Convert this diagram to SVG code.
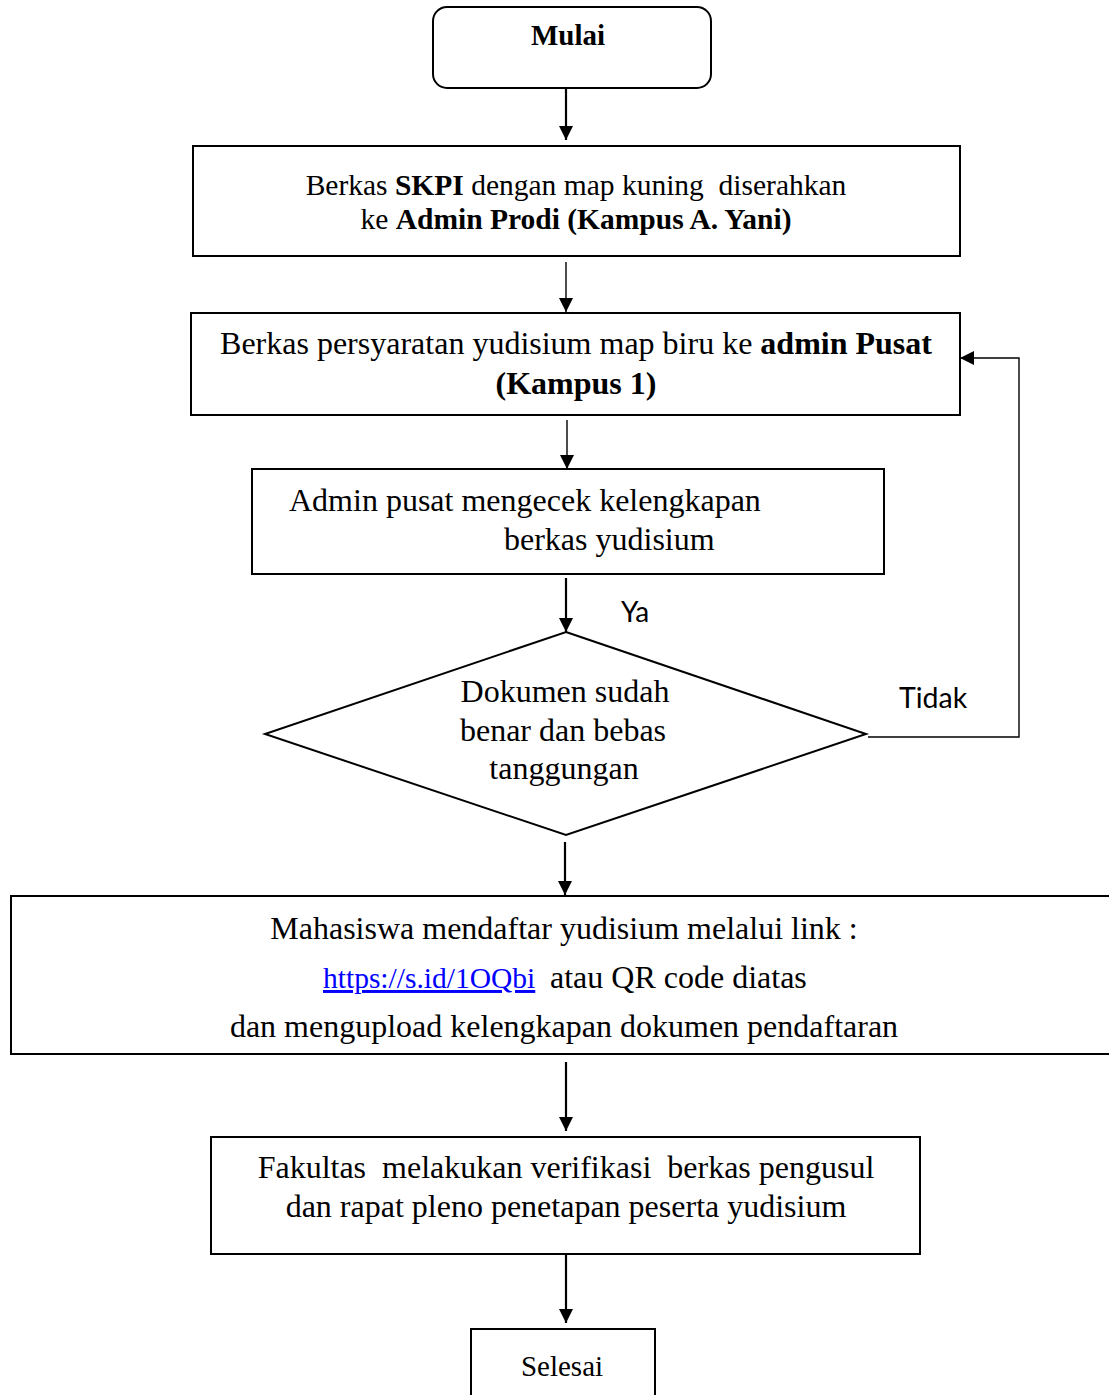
<svg xmlns="http://www.w3.org/2000/svg" width="1109" height="1395" viewBox="0 0 1109 1395">
<defs>
<marker id="arr" markerUnits="userSpaceOnUse" markerWidth="16" markerHeight="16" refX="14" refY="7" orient="auto">
<path d="M0,0 L14,7 L0,14 z" fill="#000"/>
</marker>
<style>
.box{fill:#fff;stroke:#000;stroke-width:2}
.t{font-family:"Liberation Serif","Times New Roman",serif;fill:#000}
.c{text-anchor:middle}
.b{font-weight:bold}
.lbl{font-family:Lato,"Open Sans",sans-serif;fill:#000}
.con{fill:none;stroke:#000;stroke-width:2.2}
.thin{fill:none;stroke:#000;stroke-width:1.4}
.link{fill:#0000ff;text-decoration:underline}
</style>
</defs>
<rect width="1109" height="1395" fill="#fff"/>

<g id="connectors">
<line class="con" x1="566" y1="88" x2="566" y2="140" marker-end="url(#arr)"/>
<line class="thin" x1="566" y1="262" x2="566" y2="312" marker-end="url(#arr)"/>
<line class="thin" x1="567" y1="420" x2="567" y2="469" marker-end="url(#arr)"/>
<line class="con" x1="566" y1="578" x2="566" y2="632" marker-end="url(#arr)"/>
<line class="con" x1="565" y1="842" x2="565" y2="895" marker-end="url(#arr)"/>
<line class="con" x1="566" y1="1062" x2="566" y2="1131" marker-end="url(#arr)"/>
<line class="con" x1="566" y1="1254" x2="566" y2="1323" marker-end="url(#arr)"/>
<polyline class="thin" points="868,737 1019,737 1019,358 960,358" marker-end="url(#arr)"/>
<text class="lbl" x="621" y="622" font-size="28">Ya</text>
<text class="lbl" x="899" y="708" font-size="28.5">Tidak</text>
</g>

<g id="mulai">
<rect class="box" x="433" y="7" width="278" height="81" rx="14"/>
<text class="t c b" x="568" y="45" font-size="29">Mulai</text>
</g>

<g id="skpi">
<rect class="box" x="193" y="146" width="767" height="110"/>
<text class="t c" x="576" y="195" font-size="29.5" xml:space="preserve">Berkas <tspan class="b">SKPI</tspan> dengan map kuning  diserahkan</text>
<text class="t c" x="576" y="229" font-size="29.5">ke <tspan class="b">Admin Prodi (Kampus A. Yani)</tspan></text>
</g>

<g id="persyaratan">
<rect class="box" x="191" y="313" width="769" height="102"/>
<text class="t c" x="576" y="354" font-size="32">Berkas persyaratan yudisium map biru ke <tspan class="b">admin Pusat</tspan></text>
<text class="t c b" x="576" y="394" font-size="32">(Kampus 1)</text>
</g>

<g id="cek">
<rect class="box" x="252" y="469" width="632" height="105"/>
<text class="t" x="289" y="511" font-size="32">Admin pusat mengecek kelengkapan</text>
<text class="t" x="504" y="550" font-size="32">berkas yudisium</text>
</g>

<g id="keputusan">
<polygon class="box" points="566,632 866,734 566,835 265,734"/>
<text class="t c" x="565" y="702" font-size="32">Dokumen sudah</text>
<text class="t c" x="563" y="741" font-size="32">benar dan bebas</text>
<text class="t c" x="564" y="779" font-size="32">tanggungan</text>
</g>

<g id="daftar">
<rect class="box" x="11" y="896" width="1110" height="158"/>
<text class="t c" x="564" y="939" font-size="32">Mahasiswa mendaftar yudisium melalui link :</text>
<text class="t link" x="323" y="988" font-size="29.5">https://s.id/1OQbi</text>
<text class="t" x="550" y="988" font-size="32">atau QR code diatas</text>
<text class="t c" x="564" y="1037" font-size="32">dan mengupload kelengkapan dokumen pendaftaran</text>
</g>

<g id="verifikasi">
<rect class="box" x="211" y="1137" width="709" height="117"/>
<text class="t c" x="566" y="1178" font-size="32" xml:space="preserve">Fakultas  melakukan verifikasi  berkas pengusul</text>
<text class="t c" x="566" y="1217" font-size="32">dan rapat pleno penetapan peserta yudisium</text>
</g>

<g id="selesai">
<rect class="box" x="471" y="1329" width="184" height="80"/>
<text class="t c" x="562" y="1376" font-size="29">Selesai</text>
</g>
</svg>
